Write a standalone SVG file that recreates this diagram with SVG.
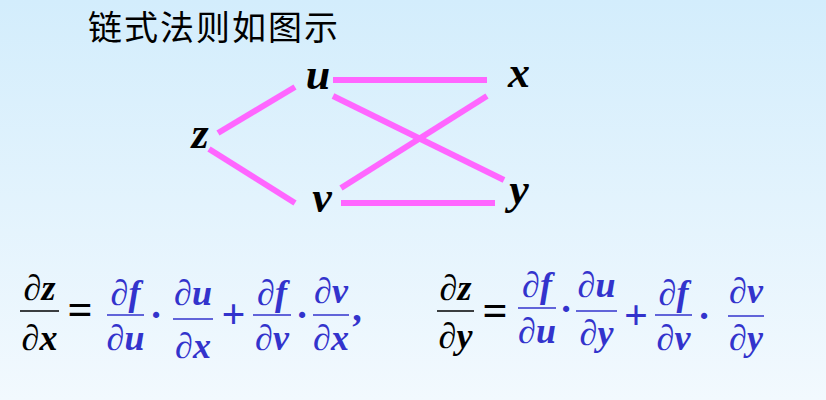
<svg xmlns="http://www.w3.org/2000/svg" width="826" height="400" viewBox="0 0 826 400">
<defs>
<linearGradient id="bg" x1="0" y1="0" x2="0" y2="1">
<stop offset="0" stop-color="#D3EDFC"/>
<stop offset="1" stop-color="#F2F9FE"/>
</linearGradient>
</defs>
<style>
.title{font-family:"Liberation Serif","Noto Sans CJK SC",serif;font-size:34px;fill:#000;letter-spacing:2px}
.var{font-family:"Liberation Serif","Times New Roman",serif;font-size:44px;font-weight:bold;font-style:italic;fill:#000;text-anchor:middle}
.edge{stroke:#FF66FF;stroke-width:6;fill:none}
.m{font-family:"Liberation Serif","Times New Roman",serif;font-size:36px;text-anchor:middle}
.m tspan.i{font-weight:bold;font-style:italic}
.blk{fill:#000}
.blu{fill:#3333CC}
.eq{font-family:"Liberation Serif","Times New Roman",serif;font-size:44px;font-weight:bold;text-anchor:middle;fill:#000}
.plus{font-family:"Liberation Serif","Times New Roman",serif;font-size:42px;font-weight:bold;text-anchor:middle;fill:#3333CC}
.dot{font-family:"Liberation Serif","Times New Roman",serif;font-size:38px;font-weight:bold;text-anchor:middle;fill:#3333CC}
.fl{stroke-width:1.4}
.fk{stroke:#000}
.fb{stroke:#3333CC}
</style>
<rect width="826" height="400" fill="url(#bg)"/>
<text class="title" x="88" y="40">链式法则如图示</text>
<g id="connectors">
<line class="edge" x1="218" y1="133" x2="295" y2="87"/>
<line class="edge" x1="209" y1="149" x2="295" y2="203"/>
<line class="edge" x1="333" y1="80" x2="487" y2="80"/>
<line class="edge" x1="333" y1="96" x2="504" y2="180"/>
<line class="edge" x1="341" y1="188" x2="487" y2="96"/>
<line class="edge" x1="341" y1="203" x2="495" y2="203"/>
</g>
<g id="node-z"><text class="var" x="200" y="148">z</text></g>
<g id="node-u"><text class="var" x="318" y="89">u</text></g>
<g id="node-v"><text class="var" x="322" y="212">v</text></g>
<g id="node-x"><text class="var" x="519" y="87">x</text></g>
<g id="node-y"><text class="var" x="519" y="204">y</text></g>
<g id="eq-left">
<text class="m blk" x="39.5" y="300">∂<tspan class="i">z</tspan></text>
<line class="fl fk" x1="20" y1="311" x2="59" y2="311"/>
<text class="m blk" x="39.5" y="350">∂<tspan class="i">x</tspan></text>
<text class="eq" x="80" y="324">=</text>
<text class="m blu" x="125.5" y="305">∂<tspan class="i">f</tspan></text>
<line class="fl fb" x1="107" y1="315" x2="144" y2="315"/>
<text class="m blu" x="125.5" y="350">∂<tspan class="i">u</tspan></text>
<text class="dot" x="156" y="328">·</text>
<text class="m blu" x="193" y="305">∂<tspan class="i">u</tspan></text>
<line class="fl fb" x1="173" y1="319" x2="213" y2="319"/>
<text class="m blu" x="193" y="358">∂<tspan class="i">x</tspan></text>
<text class="plus" x="233.5" y="328">+</text>
<text class="m blu" x="272" y="305">∂<tspan class="i">f</tspan></text>
<line class="fl fb" x1="253" y1="315" x2="291" y2="315"/>
<text class="m blu" x="272" y="350">∂<tspan class="i">v</tspan></text>
<text class="dot" x="302" y="328">·</text>
<text class="m blu" x="331" y="303">∂<tspan class="i">v</tspan></text>
<line class="fl fb" x1="313" y1="315" x2="349" y2="315"/>
<text class="m blu" x="331" y="350">∂<tspan class="i">x</tspan></text>
<text class="dot" x="357" y="321">,</text>
</g>
<g id="eq-right">
<text class="m blk" x="455.5" y="300">∂<tspan class="i">z</tspan></text>
<line class="fl fk" x1="437" y1="311" x2="474" y2="311"/>
<text class="m blk" x="455.5" y="348">∂<tspan class="i">y</tspan></text>
<text class="eq" x="495" y="325">=</text>
<text class="m blu" x="537" y="297">∂<tspan class="i">f</tspan></text>
<line class="fl fb" x1="518" y1="308" x2="556" y2="308"/>
<text class="m blu" x="537" y="343">∂<tspan class="i">u</tspan></text>
<text class="dot" x="566" y="322">·</text>
<text class="m blu" x="596.5" y="297">∂<tspan class="i">u</tspan></text>
<line class="fl fb" x1="576" y1="311" x2="617" y2="311"/>
<text class="m blu" x="596.5" y="345">∂<tspan class="i">y</tspan></text>
<text class="plus" x="636" y="329">+</text>
<text class="m blu" x="673.5" y="305">∂<tspan class="i">f</tspan></text>
<line class="fl fb" x1="655" y1="315" x2="692" y2="315"/>
<text class="m blu" x="673.5" y="350">∂<tspan class="i">v</tspan></text>
<text class="dot" x="704" y="329">·</text>
<text class="m blu" x="746" y="303">∂<tspan class="i">v</tspan></text>
<line class="fl fb" x1="728" y1="316" x2="764" y2="316"/>
<text class="m blu" x="746" y="350">∂<tspan class="i">y</tspan></text>
</g>
</svg>
